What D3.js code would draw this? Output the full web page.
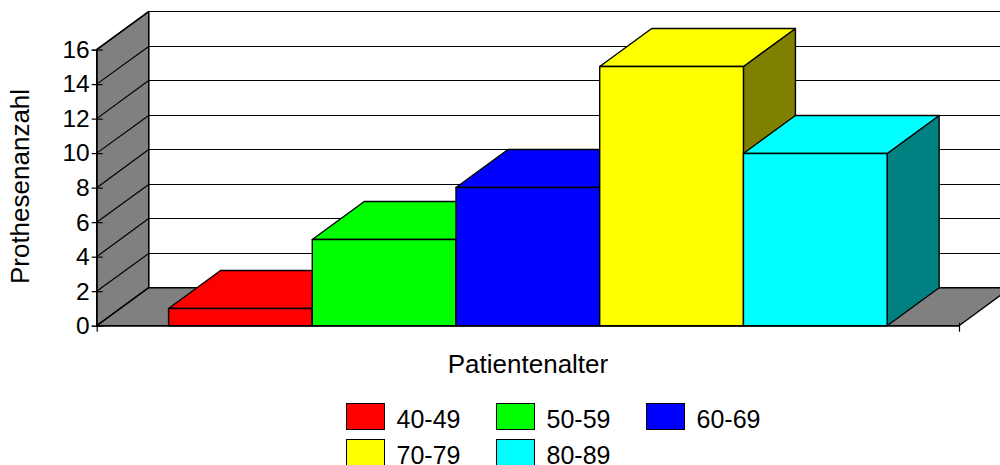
<!DOCTYPE html>
<html><head><meta charset="utf-8">
<script src="https://cdn.jsdelivr.net/npm/d3@7"></script>
<style>html,body{margin:0;padding:0;background:#fff;overflow:hidden}svg{display:block}text{font-family:"Liberation Sans",Arial,sans-serif;fill:#000}</style>
</head><body><svg id="c" width="1000" height="465"></svg>
<script>
const categories = ["40-49","50-59","60-69","70-79","80-89"];
const values = [1,5,8,15,10];
const colors = ["#ff0000","#00ff00","#0000ff","#ffff00","#00ffff"];
const sideColors = ["#800000","#008000","#000080","#808000","#008080"];
const yTicks = [0,2,4,6,8,10,12,14,16];
const yTitle = "Prothesenanzahl";
const xTitle = "Patientenalter";

const INK = "#000", SW = 1.4;
const left = 96.7, right = 959, depthX = 52, depthY = -38;
const svg = d3.select("#c");
const y = d3.scaleLinear().domain([0,16]).range([325.7,49.6]);
const x = d3.scaleBand().domain(categories).range([left,right]).paddingInner(0).paddingOuter(0.5);
const snap = v => Math.round(v - 0.5) + 0.5;
const line = d3.line();
const poly = (g,pts,fill) => g.append("path").attr("d",line(pts)+"Z").attr("fill",fill)
  .attr("stroke",INK).attr("stroke-width",SW).attr("stroke-linejoin","round");

// walls
poly(svg,[[left,y(0)],[left,y(16)],[left+depthX,y(16)+depthY],[left+depthX,y(0)+depthY]],"#808080");
poly(svg,[[left,y(0)],[left+depthX,y(0)+depthY],[right+depthX,y(0)+depthY],[right,y(0)]],"#808080");
// back wall gridlines, running on to the side wall
const grid = svg.append("g");
yTicks.forEach(t=>{
  const yb = snap(y(t)+depthY);
  grid.append("line").attr("x1",left+depthX).attr("x2",right+depthX+60)
    .attr("y1",yb).attr("y2",yb).attr("stroke",INK).attr("stroke-width",SW-0.2);
  grid.append("line").attr("x1",left).attr("x2",left+depthX)
    .attr("y1",y(t)).attr("y2",yb).attr("stroke",INK).attr("stroke-width",SW-0.2);
});
grid.append("line").attr("x1",left+depthX).attr("x2",left+depthX)
  .attr("y1",y(16)+depthY).attr("y2",y(0)+depthY).attr("stroke",INK).attr("stroke-width",SW-0.2);

// bars, back-to-front from left to right
const bars = svg.append("g");
categories.forEach((c,i)=>{
  const x0 = x(c), x1 = x0+x.bandwidth(), yt = snap(y(values[i])), yb = y(0);
  poly(bars,[[x1,yb],[x1+depthX,yb+depthY],[x1+depthX,yt+depthY],[x1,yt]],sideColors[i]);
  poly(bars,[[x0,yt],[x0+depthX,yt+depthY],[x1+depthX,yt+depthY],[x1,yt]],colors[i]);
  poly(bars,[[x0,yb],[x0,yt],[x1,yt],[x1,yb]],colors[i]);
});

// axes
const yAxis = svg.append("g").attr("transform",`translate(${left},0)`)
  .call(d3.axisLeft(y).tickValues(yTicks).tickSize(5).tickPadding(2).tickFormat(d3.format("d")));
yAxis.select(".domain").attr("stroke",INK);
yAxis.selectAll(".tick line").attr("stroke",INK).attr("x1",6).attr("stroke-width",SW-0.2);
yAxis.selectAll("text").attr("font-size",24.5).attr("font-family",'"Liberation Sans",Arial,sans-serif');

const xEnds = d3.scaleLinear().domain([0,1]).range([left,right]);
const xAxis = svg.append("g").attr("transform",`translate(0,${y(0)})`)
  .call(d3.axisBottom(xEnds).tickValues([0,1]).tickSize(6).tickFormat(""));
xAxis.select(".domain").attr("stroke",INK).attr("stroke-width",SW).attr("d",`M${left},0H${right}`);
xAxis.selectAll(".tick line").attr("stroke",INK).attr("stroke-width",SW-0.2).attr("y1",-3);

// titles
svg.append("text").attr("x",528).attr("y",373).attr("text-anchor","middle").attr("font-size",26).text(xTitle);
svg.append("text").attr("transform","translate(29,186.5) rotate(-90)").attr("text-anchor","middle").attr("font-size",26).text(yTitle);

// legend
const legend = svg.append("g");
categories.forEach((c,i)=>{
  const col = i%3, row = Math.floor(i/3);
  const lx = 346.5+150*col, ly = 403.5+36*row;
  legend.append("rect").attr("x",lx).attr("y",ly).attr("width",38).attr("height",26)
    .attr("fill",colors[i]).attr("stroke",INK).attr("stroke-width",1);
  legend.append("text").attr("x",lx+50).attr("y",ly+24).attr("font-size",25).text(c);
});
</script></body></html>
